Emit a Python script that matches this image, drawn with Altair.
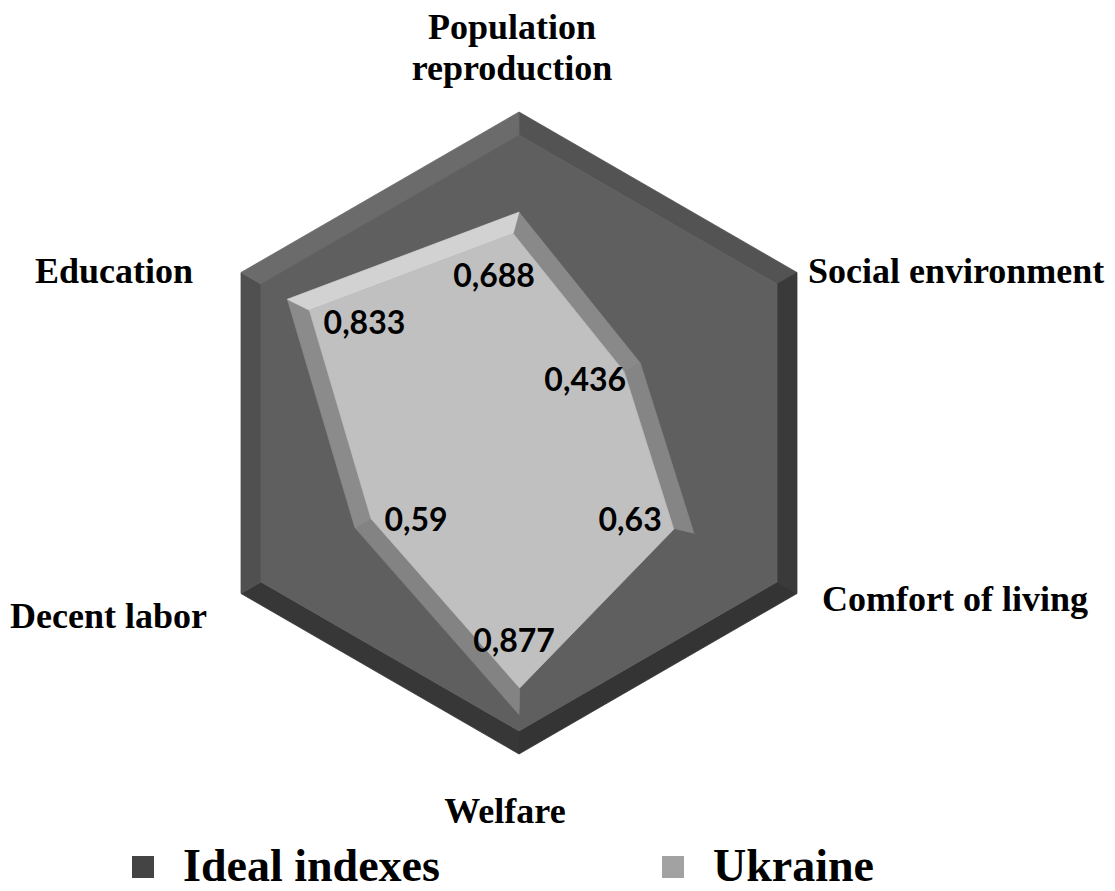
import altair as alt
import numpy as np
import pandas as pd

# ---------------- data ----------------
categories = ["Population reproduction", "Social environment", "Comfort of living",
              "Welfare", "Decent labor", "Education"]
category_text = ["Population\nreproduction", "Social environment", "Comfort of living",
                 "Welfare", "Decent labor", "Education"]
series_names = ["Ideal indexes", "Ukraine"]
ideal = [1, 1, 1, 1, 1, 1]
ukraine = [0.688, 0.436, 0.63, 0.877, 0.59, 0.833]
ukraine_labels = ["0,688", "0,436", "0,63", "0,877", "0,59", "0,833"]

# ---------------- layout / style ----------------
W, H = 1099, 882          # plot area (page offset 8px)
CX, CY = 511, 425         # radar centre inside plot area (px)
PX = 321                  # pixels per unit of value
XD = [(0 - CX) / PX, (W - CX) / PX]
YD = [(CY - H) / PX, CY / PX]

BEVEL_PX = {"Ideal indexes": 20, "Ukraine": 18}
FACE = {"Ideal indexes": "#5f5f5f", "Ukraine": "#c0c0c0"}
EDGE = {
    "Ideal indexes": ["#535353", "#3a3a3a", "#343434", "#373737", "#505050", "#6b6b6b"],
    "Ukraine": ["#898989", "#858585", "#5f5f5f", "#838383", "#8b8b8b", "#d2d2d2"],
}
LEGEND_COLORS = ["#444444", "#a2a2a2"]
SERIF = "Liberation Serif"
CAT_SIZE = 36
# (align, baseline, dx, dy) for each category label, relative to the axis end
CAT_LAYOUT = [
    ("center", "alphabetic", -7, -73),
    ("left", "alphabetic", 11, 10),
    ("left", "alphabetic", 25, 17),
    ("center", "alphabetic", -14, 69),
    ("right", "alphabetic", -34, 34),
    ("right", "alphabetic", -48, 10),
]
# (dx, dy) of each value label from its Ukraine data point, in px
VAL_OFFSETS = [(-25, 65), (-55, 18), (-64, -13), (-5, -73), (61, -7), (77, 25)]

n = len(categories)
ang = np.radians(90 - 360.0 / n * np.arange(n))


def vertices(vals):
    v = np.asarray(vals, dtype=float)
    return np.c_[v * np.cos(ang), v * np.sin(ang)]


def inset(pts, w):
    m = len(pts)
    normals = []
    for i in range(m):
        d = pts[(i + 1) % m] - pts[i]
        d = d / np.hypot(*d)
        normals.append(np.array([d[1], -d[0]]))  # inward (clockwise order)
    inner = []
    for i in range(m):
        n1, n2 = normals[i - 1], normals[i]
        inner.append(pts[i] + w * (n1 + n2) / (1 + n1 @ n2))
    return np.array(inner)


xs = alt.Scale(domain=XD, nice=False, zero=False)
ys = alt.Scale(domain=YD, nice=False, zero=False)


def poly_layer(pts, color):
    closed = np.vstack([pts, pts[:1]])
    df = pd.DataFrame({"x": closed[:, 0], "y": closed[:, 1], "k": np.arange(len(closed))})
    return alt.Chart(df).mark_line(fill=color, stroke=color, strokeWidth=0.8,
                                   strokeJoin="round").encode(
        x=alt.X("x:Q", scale=xs, axis=None),
        y=alt.Y("y:Q", scale=ys, axis=None),
        order=alt.Order("k:Q"),
    )


layers = []
for name, vals in zip(series_names, [ideal, ukraine]):
    outer = vertices(vals)
    inner = inset(outer, BEVEL_PX[name] / PX)
    for i in range(n):
        j = (i + 1) % n
        quad = np.array([outer[i], outer[j], inner[j], inner[i]])
        layers.append(poly_layer(quad, EDGE[name][i]))
    layers.append(poly_layer(inner, FACE[name]))

# value labels
uk = vertices(ukraine)
for i in range(n):
    vdf = pd.DataFrame({"x": [uk[i, 0]], "y": [uk[i, 1]], "t": [ukraine_labels[i]]})
    dx, dy = VAL_OFFSETS[i]
    layers.append(alt.Chart(vdf).mark_text(font="Lato", fontWeight="bold", fontSize=32,
                                           color="black", dx=dx, dy=dy).encode(
        x=alt.X("x:Q", scale=xs, axis=None), y=alt.Y("y:Q", scale=ys, axis=None), text="t:N"))

# category labels
ends = vertices(ideal)
for i in range(n):
    al, bl, dx, dy = CAT_LAYOUT[i]
    cdf = pd.DataFrame({"x": [ends[i, 0]], "y": [ends[i, 1]], "t": [category_text[i]]})
    layers.append(alt.Chart(cdf).mark_text(font=SERIF, fontWeight="bold", fontSize=CAT_SIZE,
                                           color="black", align=al, baseline=bl, dx=dx, dy=dy,
                                           lineBreak="\n", lineHeight=41).encode(
        x=alt.X("x:Q", scale=xs, axis=None), y=alt.Y("y:Q", scale=ys, axis=None), text="t:N"))

# legend (carried by an invisible layer)
leg_df = pd.DataFrame({"series": series_names, "x": [0, 0], "y": [0, 0]})
layers.append(alt.Chart(leg_df).mark_point(shape="square", filled=True, size=0, opacity=1).encode(
    x=alt.X("x:Q", scale=xs, axis=None),
    y=alt.Y("y:Q", scale=ys, axis=None),
    fill=alt.Fill("series:N", scale=alt.Scale(domain=series_names, range=LEGEND_COLORS),
                  legend=alt.Legend(title=None, orient="none", legendX=112, legendY=836,
                                    direction="horizontal", padding=0,
                                    labelFont=SERIF, labelFontWeight="bold", labelFontSize=46,
                                    labelColor="black", labelLimit=0, labelOffset=17,
                                    symbolType="square", symbolSize=484, symbolStrokeWidth=0,
                                    symbolOpacity=1, columnPadding=210)),
))

chart = alt.layer(*layers).properties(
    width=W, height=H, padding=0, autosize=alt.AutoSizeParams(type="none"),
    background="white",
).configure_view(stroke=None)

chart.save("out.html", embed_options={"renderer": "svg", "actions": False})
